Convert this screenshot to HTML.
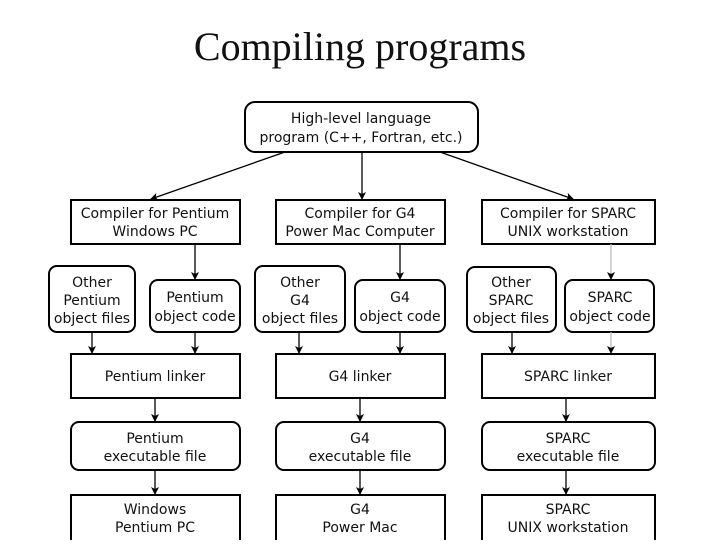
<!DOCTYPE html>
<html><head><meta charset="utf-8"><style>
body{margin:0;background:#fff;width:720px;height:540px;overflow:hidden}
svg text{font-family:"DejaVu Sans","Liberation Sans",sans-serif;font-size:14px;text-anchor:middle;fill:#111}
</style></head><body>
<svg width="720" height="540" viewBox="0 0 720 540" xmlns="http://www.w3.org/2000/svg">
<defs><marker id="a" markerWidth="8" markerHeight="8" refX="7" refY="4" orient="auto" markerUnits="userSpaceOnUse"><path d="M0,0 L8,4 L0,8 L2,4 z" fill="#000"/></marker></defs>
<text x="360" y="60" style="font-family:'Liberation Serif',serif;font-size:40px">Compiling programs</text>
<g fill="#fff" stroke="#000" stroke-width="2">
<rect x="245" y="102" width="233" height="50" rx="10"/>
<rect x="71" y="200" width="169" height="44"/>
<rect x="276" y="200" width="169" height="44"/>
<rect x="482" y="200" width="173" height="44"/>
<rect x="49" y="266" width="86" height="66" rx="8"/>
<rect x="150" y="280" width="90" height="52" rx="8"/>
<rect x="255" y="266" width="90" height="66" rx="8"/>
<rect x="355" y="280" width="90" height="52" rx="8"/>
<rect x="467" y="267" width="89" height="65" rx="8"/>
<rect x="565" y="280" width="89" height="52" rx="8"/>
<rect x="71" y="354" width="169" height="44"/>
<rect x="276" y="354" width="169" height="44"/>
<rect x="482" y="354" width="173" height="44"/>
<rect x="71" y="422" width="169" height="48" rx="8"/>
<rect x="276" y="422" width="169" height="48" rx="8"/>
<rect x="482" y="422" width="173" height="48" rx="8"/>
<rect x="71" y="495" width="169" height="46"/>
<rect x="276" y="495" width="169" height="46"/>
<rect x="482" y="495" width="173" height="46"/>
</g>
<g stroke="#000" stroke-width="1.3" marker-end="url(#a)">
<line x1="285" y1="152" x2="151" y2="199"/>
<line x1="362" y1="152" x2="362" y2="199"/>
<line x1="440" y1="152" x2="573" y2="199"/>
<line x1="195" y1="244" x2="195" y2="279"/>
<line x1="400" y1="244" x2="400" y2="279"/>
<line x1="611" y1="244" x2="611" y2="279" stroke="#bbb"/>
<line x1="92" y1="332" x2="92" y2="353"/>
<line x1="195" y1="332" x2="195" y2="353"/>
<line x1="299" y1="332" x2="299" y2="353"/>
<line x1="400" y1="332" x2="400" y2="353"/>
<line x1="512" y1="332" x2="512" y2="353"/>
<line x1="611" y1="332" x2="611" y2="353" stroke="#bbb"/>
<line x1="155" y1="398" x2="155" y2="421"/>
<line x1="360" y1="398" x2="360" y2="421"/>
<line x1="566" y1="398" x2="566" y2="421"/>
<line x1="155" y1="470" x2="155" y2="494"/>
<line x1="360" y1="470" x2="360" y2="494"/>
<line x1="566" y1="470" x2="566" y2="494"/>
</g>
<text x="361" y="123">High-level language</text>
<text x="361" y="142">program (C++, Fortran, etc.)</text>
<text x="155" y="218">Compiler for Pentium</text><text x="155" y="236">Windows PC</text>
<text x="360" y="218">Compiler for G4</text><text x="360" y="236">Power Mac Computer</text>
<text x="568" y="218">Compiler for SPARC</text><text x="568" y="236">UNIX workstation</text>
<text x="92" y="287">Other</text><text x="92" y="305">Pentium</text><text x="92" y="323">object files</text>
<text x="195" y="302">Pentium</text><text x="195" y="321">object code</text>
<text x="300" y="287">Other</text><text x="300" y="305">G4</text><text x="300" y="323">object files</text>
<text x="400" y="302">G4</text><text x="400" y="321">object code</text>
<text x="511" y="287">Other</text><text x="511" y="305">SPARC</text><text x="511" y="323">object files</text>
<text x="610" y="302">SPARC</text><text x="610" y="321">object code</text>
<text x="155" y="381">Pentium linker</text>
<text x="360" y="381">G4 linker</text>
<text x="568" y="381">SPARC linker</text>
<text x="155" y="443">Pentium</text><text x="155" y="461">executable file</text>
<text x="360" y="443">G4</text><text x="360" y="461">executable file</text>
<text x="568" y="443">SPARC</text><text x="568" y="461">executable file</text>
<text x="155" y="514">Windows</text><text x="155" y="532">Pentium PC</text>
<text x="360" y="514">G4</text><text x="360" y="532">Power Mac</text>
<text x="568" y="514">SPARC</text><text x="568" y="532">UNIX workstation</text>
</svg>
</body></html>
